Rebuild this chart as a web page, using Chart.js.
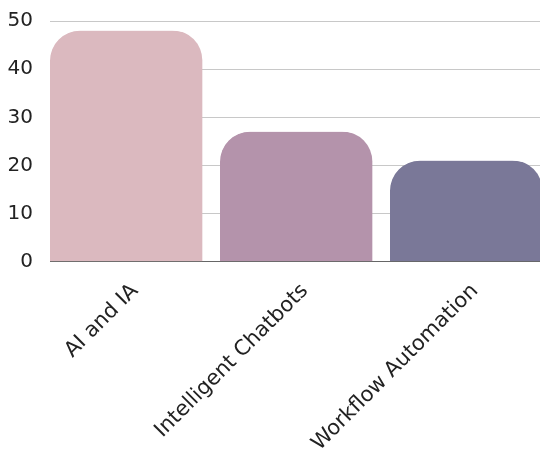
<!DOCTYPE html>
<html lang="en">
  <head>
    <meta charset="UTF-8" />
    <title>Topics</title>
    <script src="https://cdn.jsdelivr.net/npm/chart.js"></script>
    <style>
      body { margin: 0; overflow: hidden; background: #fff; }
      .wrap { width: 560px; height: 465px; }
    </style>
  </head>
  <body>
    <div class="wrap"><canvas id="topicChart"></canvas></div>

    <script>
      const categories = ["AI and IA", "Intelligent Chatbots", "Workflow Automation"];
      const counts = [48, 27, 21];
      const barColors = ["#dbb9bf", "#b493ab", "#7a7898"];
      const yTicks = [0, 10, 20, 30, 40, 50];

      const ctx = document.getElementById("topicChart").getContext("2d");
      Chart.defaults.font.family = "'DejaVu Sans', sans-serif";
      Chart.defaults.color = "#222";

      new Chart(ctx, {
        type: "bar",
        data: {
          labels: categories,
          datasets: [
            {
              data: counts,
              backgroundColor: barColors,
              // bars sit at the left of their slot: transparent right border leaves the gap
              borderColor: "rgba(0,0,0,0)",
              borderWidth: { right: 18, left: 0, top: 0, bottom: 0 },
              borderSkipped: "bottom",
              borderRadius: { topLeft: 30, topRight: 48, bottomLeft: 0, bottomRight: 0 },
              barPercentage: 1,
              categoryPercentage: 1,
            },
          ],
        },
        options: {
          responsive: true,
          maintainAspectRatio: false,
          animation: false,
          plugins: { legend: { display: false }, tooltip: { enabled: false } },
          scales: {
            x: {
              grid: { display: false },
              border: { display: true, color: "#666", width: 1 },
              ticks: { font: { size: 21 }, minRotation: 45, maxRotation: 45, padding: 9 },
            },
            y: {
              min: yTicks[0],
              max: yTicks[yTicks.length - 1],
              ticks: { stepSize: 10, font: { size: 20 }, padding: 9 },
              grid: { color: "#c8c8c8", tickColor: "rgba(0,0,0,0)", tickLength: 8 },
              border: { display: false },
              afterFit(scale) { scale.width = 50; },
            },
          },
        },
      });
    </script>
  </body>
</html>
